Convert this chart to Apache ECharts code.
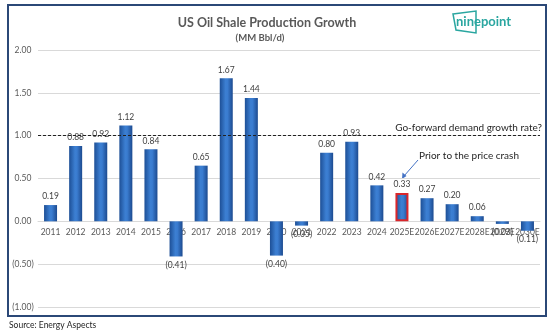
<!DOCTYPE html>
<html><head><meta charset="utf-8">
<script src="https://cdn.jsdelivr.net/npm/echarts@6/dist/echarts.min.js"></script>
<style>html,body{margin:0;padding:0;background:#fff}#c{width:554px;height:332px}</style>
</head><body><div id="c"></div>
<script>
const categories = ['2011','2012','2013','2014','2015','2016','2017','2018','2019','2020','2021','2022','2023','2024','2025E','2026E','2027E','2028E','2029E','2030E'];
const growth = [0.19,0.88,0.92,1.12,0.84,-0.41,0.65,1.67,1.44,-0.40,-0.05,0.80,0.93,0.42,0.33,0.27,0.20,0.06,-0.03,-0.11];
const highlighted = '2025E';
const demandRate = 1.00;

const fmt = v => v < 0 ? '(' + Math.abs(v).toFixed(2) + ')' : v.toFixed(2);
const barGrad = new echarts.graphic.LinearGradient(0,0,1,0,[
  {offset:0,color:'#1d4f96'},{offset:0.45,color:'#3c7fd2'},{offset:0.6,color:'#3a7cd0'},{offset:1,color:'#1c4a8f'}]);
const data = growth.map((v,i)=>{
  const o = {value:v, label:{position: v<0?'bottom':'top'}};
  if (categories[i]===highlighted) o.itemStyle = {borderColor:'#d9262b', borderWidth:2};
  return o;
});

const chart = echarts.init(document.getElementById('c'));
chart.setOption({
  animation:false,
  textStyle:{fontFamily:'Lato'},
  title:[{text:'US Oil Shale Production Growth', left:262, top:11, textAlign:'center',
    textStyle:{fontSize:12.5, fontWeight:'bold', color:'#595959', fontFamily:'Lato'}},
    {text:'(MM Bbl/d)', left:255, top:28, textAlign:'center',
    textStyle:{fontSize:9.5, fontWeight:'bold', color:'#595959', fontFamily:'Lato'}}],
  grid:{left:38, right:14, top:50, bottom:25},
  xAxis:{type:'category', data:categories, position:'bottom', offset:-85.7,
    axisLine:{onZero:false, lineStyle:{color:'#d9d9d9'}}, axisTick:{show:false},
    axisLabel:{color:'#595959', fontSize:8.5, margin:6, interval:0}},
  yAxis:{type:'value', min:-1, max:2, interval:0.5,
    axisLabel:{formatter:fmt, color:'#595959', fontSize:8.5, margin:15, align:'center'},
    splitLine:{lineStyle:{color:'#d9d9d9'}}, axisLine:{show:false}, axisTick:{show:false}},
  series:[{type:'bar', data:data, barWidth:13,
    itemStyle:{color:barGrad},
    label:{show:true, formatter:p=>fmt(p.value), fontSize:8.5, color:'#404040', distance:4},
    markLine:{silent:true, symbol:'none', label:{show:false},
      lineStyle:{type:[3,2], color:'#222', width:1}, data:[{yAxis:demandRate}]}
  }],
  graphic:[
    {type:'rect', shape:{x:8,y:5,width:538,height:311}, style:{fill:'none', stroke:'#2b4877', lineWidth:2}},
    {type:'text', style:{text:'Go-forward demand growth rate?', x:542, y:128, align:'right', verticalAlign:'middle',
      font:'10px Lato', fill:'#262626'}},
    {type:'text', style:{text:'Prior to the price crash', x:419, y:156, align:'left', verticalAlign:'middle',
      font:'10px Lato', fill:'#262626'}},
    {type:'line', shape:{x1:418,y1:160,x2:404,y2:176}, style:{stroke:'#4472c4', lineWidth:1}},
    {type:'polygon', shape:{points:[[402,179],[402.5,172.5],[406.5,176]]}, style:{fill:'#4472c4'}},
    {type:'polygon', shape:{points:[[453,14],[476,11],[476,33],[456,30]]}, style:{fill:'none', stroke:'#2aa6a0', lineWidth:1.5}},
    {type:'text', style:{text:'ninepoint', x:456, y:22, verticalAlign:'middle', font:'bold 13px Lato', fill:'#2aa6a0'}},
    {type:'text', style:{text:'Source: Energy Aspects', x:9, y:325, verticalAlign:'middle', font:'8.5px Lato', fill:'#262626'}}
  ]
});
</script></body></html>
